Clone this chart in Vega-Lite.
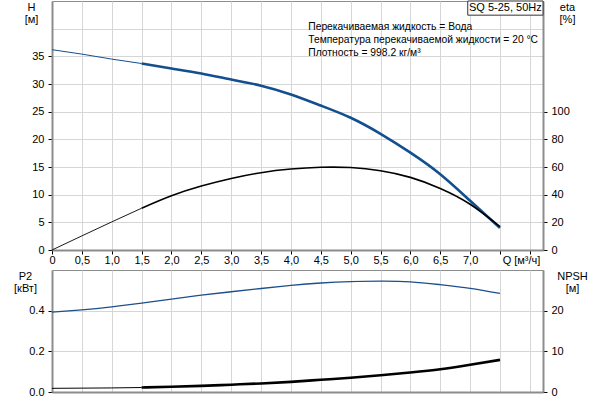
{
  "$schema": "https://vega.github.io/schema/vega-lite/v6.json",
  "autosize": {"type": "pad"},
  "padding": {"left": 13, "top": 0, "right": 5, "bottom": 5},
  "background": "white",
  "bounds": "flush",
  "spacing": 20,
  "config": {
    "font": "Liberation Sans",
    "view": {"stroke": "#8c8c8c", "strokeWidth": 1},
    "axis": {
      "labelFont": "Liberation Sans", "labelFontSize": 11, "labelColor": "#000",
      "titleFont": "Liberation Sans", "titleFontSize": 11, "titleFontWeight": "normal", "titleColor": "#000",
      "domainColor": "#8c8c8c", "domainWidth": 2, "tickColor": "#000", "tickSize": 4,
      "gridColor": "#d6d6d6", "gridWidth": 1, "labelPadding": 4, "labelOverlap": false
    },
    "text": {"font": "Liberation Sans", "fontSize": 11, "color": "#000"}
  },
  "datasets": {
    "curves": [
      {"Q": 0, "H": 36.2, "eta": 0, "P2": 0.393, "NPSH": 0.9, "range": "low"},
      {"Q": 0.5, "H": 35.4, "eta": 10.2, "P2": 0.404, "NPSH": 0.95, "range": "low"},
      {"Q": 1.0, "H": 34.5, "eta": 20.3, "P2": 0.419, "NPSH": 1.0, "range": "low"},
      {"Q": 1.5, "H": 33.7, "eta": 30.2, "P2": 0.437, "NPSH": 1.1, "range": "low"},
      {"Q": 1.5, "H": 33.7, "eta": 30.2, "P2": 0.437, "NPSH": 1.1, "range": "duty"},
      {"Q": 2.0, "H": 32.8, "eta": 39.2, "P2": 0.457, "NPSH": 1.3, "range": "duty"},
      {"Q": 2.5, "H": 31.9, "eta": 46.2, "P2": 0.476, "NPSH": 1.5, "range": "duty"},
      {"Q": 3.0, "H": 30.8, "eta": 51.7, "P2": 0.493, "NPSH": 1.8, "range": "duty"},
      {"Q": 3.5, "H": 29.7, "eta": 55.9, "P2": 0.509, "NPSH": 2.1, "range": "duty"},
      {"Q": 4.0, "H": 28.1, "eta": 58.5, "P2": 0.524, "NPSH": 2.5, "range": "duty"},
      {"Q": 4.5, "H": 26.1, "eta": 59.8, "P2": 0.536, "NPSH": 3.0, "range": "duty"},
      {"Q": 5.0, "H": 23.9, "eta": 59.6, "P2": 0.543, "NPSH": 3.5, "range": "duty"},
      {"Q": 5.5, "H": 21.0, "eta": 57.3, "P2": 0.545, "NPSH": 4.1, "range": "duty"},
      {"Q": 6.0, "H": 17.6, "eta": 52.5, "P2": 0.542, "NPSH": 4.8, "range": "duty"},
      {"Q": 6.5, "H": 13.7, "eta": 44.5, "P2": 0.528, "NPSH": 5.6, "range": "duty"},
      {"Q": 7.0, "H": 8.9, "eta": 33.1, "P2": 0.51, "NPSH": 6.7, "range": "duty"},
      {"Q": 7.5, "H": 4.0, "eta": 16.9, "P2": 0.485, "NPSH": 7.9, "range": "duty"}
    ]
  },
  "vconcat": [
    {
      "width": 491,
      "height": 249,
      "data": {"name": "curves"},
      "layer": [
        {
          "mark": {"type": "line", "interpolate": "natural", "color": "#134f8e"},
          "encoding": {
            "x": {
              "field": "Q", "type": "quantitative",
              "scale": {"domain": [0, 8.22], "nice": false, "zero": false},
              "axis": {
                "values": [0, 0.5, 1, 1.5, 2, 2.5, 3, 3.5, 4, 4.5, 5, 5.5, 6, 6.5, 7, 7.5, 8],
                "tickCount": 17,
                "labelExpr": "datum.value > 7.25 ? '' : (datum.value == 0 ? '0' : replace(format(datum.value, '.1f'), '.', ','))",
                "labelPadding": 0, "tickSize": 4,
                "labelFlush": false,
                "title": "Q [м³/ч]", "titleX": 469, "titleY": 10, "titleAlign": "center", "titleBaseline": "middle"
              }
            },
            "y": {
              "field": "H", "type": "quantitative",
              "scale": {"domain": [0, 45], "nice": false},
              "axis": {
                "values": [0, 5, 10, 15, 20, 25, 30, 35, 40],
                "tickCount": 9,
                "labelExpr": "datum.value > 37 ? '' : datum.label",
                "tickOpacity": {"condition": {"test": "datum.value > 37", "value": 0}, "value": 1},
                "title": ["H", "[м]"], "titleAngle": 0, "titleAlign": "center", "titleBaseline": "alphabetic",
                "titleX": -21, "titleY": 9, "titleLineHeight": 12
              }
            },
            "detail": {"field": "range"},
            "strokeWidth": {"field": "range", "type": "nominal", "scale": {"domain": ["low", "duty"], "range": [1, 2.6]}, "legend": null}
          }
        },
        {
          "mark": {"type": "line", "interpolate": "natural", "color": "#000"},
          "encoding": {
            "x": {
              "field": "Q", "type": "quantitative",
              "scale": {"domain": [0, 8.22], "nice": false, "zero": false},
              "axis": null
            },
            "y": {
              "field": "eta", "type": "quantitative",
              "scale": {"domain": [0, 180], "nice": false},
              "axis": {
                "orient": "right", "grid": false,
                "values": [0, 20, 40, 60, 80, 100],
                "title": ["eta", "[%]"], "titleAngle": 0, "titleAlign": "center", "titleBaseline": "alphabetic",
                "titleX": 24, "titleY": 9, "titleLineHeight": 12
              }
            },
            "detail": {"field": "range"},
            "strokeWidth": {"field": "range", "type": "nominal", "scale": {"domain": ["low", "duty"], "range": [0.9, 1.6]}, "legend": null}
          }
        },
        {
          "data": {"values": [{}]},
          "layer": [
            {
              "mark": {"type": "rect", "fill": "white", "stroke": "#333", "strokeWidth": 1},
              "encoding": {
                "x": {"datum": 6.96, "scale": {"domain": [0, 8.22], "nice": false, "zero": false}, "axis": null},
                "x2": {"datum": 8.22},
                "y": {"datum": 42.44, "scale": {"domain": [0, 45], "nice": false}, "axis": null},
                "y2": {"datum": 45}
              }
            },
            {
              "mark": {"type": "text", "text": "SQ 5-25, 50Hz", "align": "center", "baseline": "middle", "fontSize": 11},
              "encoding": {
                "x": {"datum": 7.59, "scale": {"domain": [0, 8.22], "nice": false, "zero": false}, "axis": null},
                "y": {"datum": 43.75, "scale": {"domain": [0, 45], "nice": false}, "axis": null}
              }
            },
            {
              "mark": {
                "type": "text",
                "text": ["Перекачиваемая жидкость = Вода", "Температура перекачиваемой жидкости = 20 °C", "Плотность = 998.2 кг/м³"],
                "align": "left", "baseline": "middle", "lineHeight": 13, "fontSize": 10.3
              },
              "encoding": {
                "x": {"datum": 4.29, "scale": {"domain": [0, 8.22], "nice": false, "zero": false}, "axis": null},
                "y": {"datum": 40.3, "scale": {"domain": [0, 45], "nice": false}, "axis": null}
              }
            }
          ]
        }
      ],
      "resolve": {"scale": {"x": "independent", "y": "independent", "strokeWidth": "independent"}}
    },
    {
      "width": 491,
      "height": 122,
      "data": {"name": "curves"},
      "layer": [
        {
          "mark": {"type": "line", "interpolate": "natural", "color": "#1d4f8a", "strokeWidth": 1.3},
          "encoding": {
            "x": {
              "field": "Q", "type": "quantitative",
              "scale": {"domain": [0, 8.22], "nice": false, "zero": false},
              "axis": {
                "values": [0, 0.5, 1, 1.5, 2, 2.5, 3, 3.5, 4, 4.5, 5, 5.5, 6, 6.5, 7, 7.5, 8],
                "tickCount": 17,
                "labels": false, "ticks": false, "title": null
              }
            },
            "y": {
              "field": "P2", "type": "quantitative",
              "scale": {"domain": [0, 0.6], "nice": false},
              "axis": {
                "values": [0, 0.2, 0.4], "format": ".1f",
                "title": ["P2", "[кВт]"], "titleAngle": 0, "titleAlign": "center", "titleBaseline": "alphabetic",
                "titleX": -27, "titleY": 9, "titleLineHeight": 12
              }
            }
          }
        },
        {
          "mark": {"type": "line", "interpolate": "natural", "color": "#000"},
          "encoding": {
            "x": {
              "field": "Q", "type": "quantitative",
              "scale": {"domain": [0, 8.22], "nice": false, "zero": false},
              "axis": null
            },
            "y": {
              "field": "NPSH", "type": "quantitative",
              "scale": {"domain": [0, 30], "nice": false},
              "axis": {
                "orient": "right", "grid": false,
                "values": [0, 10, 20],
                "title": ["NPSH", "[м]"], "titleAngle": 0, "titleAlign": "center", "titleBaseline": "alphabetic",
                "titleX": 29, "titleY": 9, "titleLineHeight": 12
              }
            },
            "detail": {"field": "range"},
            "strokeWidth": {"field": "range", "type": "nominal", "scale": {"domain": ["low", "duty"], "range": [1, 2.6]}, "legend": null}
          }
        }
      ],
      "resolve": {"scale": {"x": "independent", "y": "independent", "strokeWidth": "independent"}}
    }
  ]
}
